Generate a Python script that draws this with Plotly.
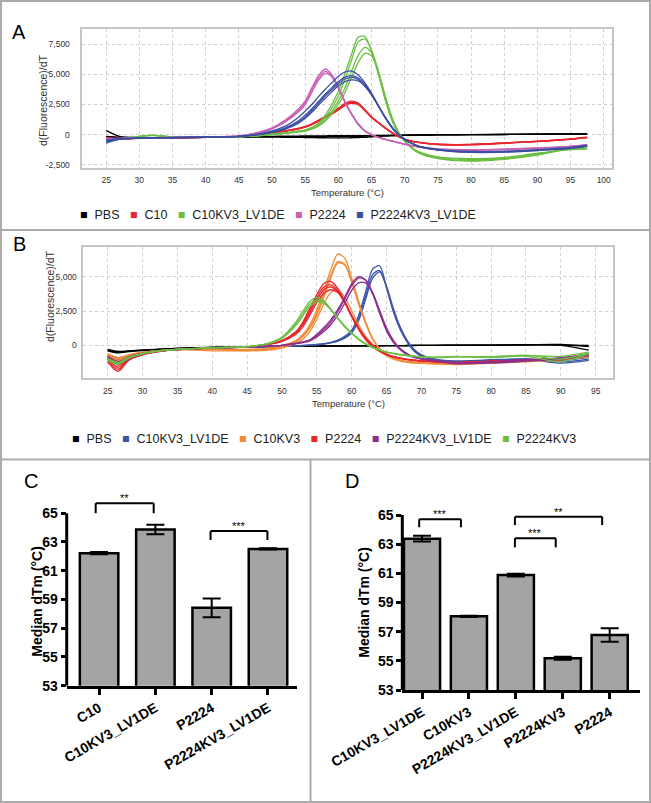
import plotly.graph_objects as go

# ---------------- Panel A: melt-curve derivative data ----------------
TEMP_A = [25, 27, 30, 32, 35, 40, 45, 48, 50, 52, 54, 55, 56, 57, 58, 59, 60, 61, 62, 63,
          64, 65, 66, 67, 68, 69, 70, 71, 72, 75, 80, 85, 90, 95, 97.5]

A_PBS = [
    [350, -150, -250, -260, -250, -230, -180, -150, -140, -130, -120, -110, -110, -100, -100, -90, -90, -90, -90, -90, -80, -80, -70, -60, -60, -50, -50, -40, -40, -30, -10, 10, 30, 50, 50],
    [-200, -260, -280, -280, -260, -230, -200, -200, -200, -220, -230, -240, -250, -260, -260, -270, -270, -270, -260, -240, -220, -190, -160, -130, -110, -90, -70, -60, -50, -30, -10, 10, 30, 40, 40],
    [-150, -220, -260, -260, -250, -220, -180, -170, -170, -165, -160, -160, -160, -160, -160, -160, -160, -160, -150, -140, -130, -120, -100, -80, -60, -50, -40, -30, -20, -10, 0, 20, 40, 60, 60],
]
A_C10 = [
    [-300, -350, -300, -280, -260, -220, -150, -20, 150, 300, 500, 650, 850, 1150, 1450, 1750, 2100, 2500, 2700, 2550, 2000, 1420, 980, 560, 160, -150, -400, -550, -650, -820, -830, -700, -560, -370, -230],
    [-350, -380, -310, -290, -265, -225, -150, -30, 130, 280, 470, 620, 820, 1100, 1400, 1700, 2050, 2450, 2650, 2550, 2050, 1480, 1020, 600, 200, -120, -380, -540, -640, -800, -810, -690, -550, -360, -220],
    [-250, -330, -290, -270, -255, -215, -140, -10, 170, 330, 530, 690, 900, 1200, 1520, 1830, 2200, 2600, 2780, 2620, 2060, 1450, 1000, 570, 170, -140, -390, -550, -650, -830, -850, -720, -580, -390, -250],
    [-320, -360, -300, -280, -260, -220, -150, -25, 140, 290, 490, 640, 840, 1120, 1430, 1730, 2060, 2420, 2600, 2480, 1980, 1420, 990, 580, 190, -120, -370, -530, -630, -800, -820, -700, -560, -380, -240],
]
A_C10KV3_LV1DE = [
    [-400, -350, -150, -60, -200, -220, -180, -80, 50, 150, 300, 400, 600, 950, 1600, 2500, 3600, 5100, 6700, 8100, 8150, 6900, 5100, 3000, 1300, 150, -550, -1100, -1500, -2000, -2200, -2050, -1700, -1150, -1000],
    [-450, -380, -160, -70, -210, -225, -185, -90, 30, 130, 270, 360, 550, 850, 1400, 2200, 3200, 4600, 6200, 7700, 7950, 7000, 5300, 3100, 1350, 180, -530, -1080, -1480, -1950, -2150, -2000, -1650, -1100, -950],
    [-380, -360, -140, -50, -200, -220, -185, -90, 20, 110, 240, 330, 500, 750, 1200, 1900, 2800, 3900, 5300, 6600, 7250, 6800, 5300, 3300, 1500, 250, -500, -1050, -1450, -1900, -2080, -1950, -1600, -1200, -1150],
    [-420, -370, -150, -60, -205, -220, -190, -95, 10, 100, 220, 300, 460, 700, 1100, 1700, 2500, 3500, 4800, 6000, 6750, 6550, 5200, 3300, 1550, 300, -480, -1020, -1400, -1850, -2000, -1900, -1550, -1250, -1200],
]
A_P2224 = [
    [-300, -350, -300, -280, -250, -200, -100, 200, 560, 1200, 2150, 2800, 3900, 4900, 5450, 5000, 3950, 2700, 1700, 850, 300, 0, -220, -380, -530, -650, -800, -900, -1000, -1200, -1280, -1220, -1120, -980, -850],
    [-400, -320, -280, -270, -240, -200, -110, 170, 520, 1120, 2000, 2650, 3700, 4700, 5250, 4850, 3850, 2650, 1650, 820, 280, -20, -240, -400, -550, -680, -820, -930, -1030, -1220, -1300, -1250, -1150, -1000, -880],
    [-350, -300, -260, -250, -230, -190, -120, 140, 470, 1050, 1900, 2500, 3500, 4500, 5080, 4800, 3900, 2750, 1750, 900, 320, 10, -210, -370, -520, -650, -790, -900, -1000, -1180, -1250, -1200, -1100, -960, -830],
]
A_P2224KV3_LV1DE = [
    [-700, -400, -300, -280, -260, -220, -150, 50, 300, 700, 1450, 1950, 2500, 3150, 3750, 4300, 4850, 5200, 5280, 4950, 4300, 3450, 2450, 1500, 650, 0, -430, -700, -950, -1250, -1450, -1430, -1300, -1120, -950],
    [-600, -380, -290, -270, -250, -210, -160, 20, 230, 560, 1150, 1600, 2150, 2750, 3350, 3900, 4400, 4780, 4900, 4700, 4150, 3350, 2400, 1450, 620, 0, -420, -720, -970, -1280, -1480, -1460, -1330, -1150, -980],
    [-500, -350, -280, -260, -245, -205, -155, 10, 200, 500, 1050, 1450, 2000, 2600, 3200, 3750, 4250, 4620, 4750, 4580, 4080, 3320, 2400, 1470, 650, 30, -400, -700, -950, -1260, -1450, -1420, -1280, -1100, -900],
    [-450, -330, -270, -255, -240, -200, -150, 0, 180, 450, 950, 1350, 1850, 2450, 3000, 3550, 4050, 4400, 4550, 4450, 4000, 3300, 2420, 1500, 700, 60, -380, -680, -930, -1230, -1400, -1380, -1250, -1070, -880],
]
A_NAMES = ["PBS", "C10", "C10KV3_LV1DE", "P2224", "P2224KV3_LV1DE"]
A_COLORS = ["#000000", "#e8262e", "#6cbf45", "#c862b5", "#3b4ea3"]
A_CURVES = [A_PBS, A_C10, A_C10KV3_LV1DE, A_P2224, A_P2224KV3_LV1DE]
A_XTICKS = [25, 30, 35, 40, 45, 50, 55, 60, 65, 70, 75, 80, 85, 90, 95, 100]
A_YTICKS = [-2500, 0, 2500, 5000, 7500]
A_YTICKTEXT = ["-2,500", "0", "2,500", "5,000", "7,500"]

# ---------------- Panel B ----------------
TEMP_B = [25, 26.5, 28, 30, 32.5, 35, 40, 45, 48, 50, 52, 53, 54, 55, 56, 57, 58, 59, 60, 61,
          62, 63, 64, 65, 66, 67, 68, 69, 70, 72, 75, 80, 85, 90, 94]

B_PBS = [
    [-300, -450, -400, -350, -280, -220, -150, -100, -80, -70, -60, -60, -55, -50, -50, -45, -45, -40, -40, -35, -35, -30, -30, -25, -20, -20, -15, -10, -5, 0, 10, 20, 30, 20, 0],
    [-400, -550, -450, -380, -300, -230, -160, -110, -90, -80, -70, -65, -60, -60, -55, -55, -50, -50, -45, -45, -40, -40, -35, -30, -25, -20, -20, -15, -10, 0, 0, 10, 20, 0, -350],
    [-350, -500, -420, -360, -290, -225, -155, -105, -85, -75, -65, -62, -58, -55, -52, -50, -48, -45, -42, -40, -38, -35, -32, -28, -22, -18, -15, -10, -5, 0, 5, 15, 40, 60, -100],
]
B_C10KV3_LV1DE = [
    [-800, -1000, -800, -600, -400, -300, -200, -130, -100, -80, -50, -20, 20, 60, 120, 220, 380, 650, 1100, 2200, 3900, 5550, 5800, 4200, 2400, 1100, 200, -450, -800, -1100, -1150, -1100, -1050, -1100, -900],
    [-700, -900, -750, -580, -390, -290, -190, -120, -90, -70, -40, -15, 15, 50, 100, 190, 330, 580, 1000, 2000, 3600, 5150, 5450, 4200, 2500, 1200, 270, -380, -750, -1050, -1200, -1150, -1000, -1200, -1000],
    [-900, -1100, -850, -620, -410, -300, -195, -125, -95, -75, -45, -20, 10, 40, 90, 170, 300, 520, 900, 1800, 3350, 4900, 5350, 4300, 2650, 1300, 330, -330, -700, -1000, -1150, -1050, -1000, -1300, -1100],
]
B_C10KV3 = [
    [-600, -900, -700, -500, -380, -300, -250, -300, -200, 0, 350, 800, 1500, 2600, 4000, 5500, 6650, 6350, 4900, 3200, 1700, 500, -250, -650, -900, -1100, -1200, -1250, -1300, -1350, -1350, -1250, -1150, -1000, -800],
    [-700, -1000, -750, -520, -390, -310, -260, -350, -250, -50, 300, 700, 1350, 2350, 3700, 5100, 6100, 5900, 4600, 3000, 1600, 450, -250, -650, -900, -1100, -1200, -1250, -1300, -1350, -1400, -1300, -1200, -1050, -850],
    [-650, -950, -720, -510, -385, -305, -400, -380, -300, -100, 250, 650, 1250, 2200, 3500, 4900, 6000, 5850, 4650, 3100, 1650, 480, -240, -640, -880, -1080, -1180, -1230, -1280, -1330, -1380, -1280, -1150, -1050, -800],
    [-750, -1100, -800, -540, -400, -320, -300, -400, -350, -200, 150, 450, 1000, 1900, 3000, 3850, 4050, 3500, 2500, 1500, 650, 50, -400, -750, -1000, -1150, -1250, -1300, -1300, -1300, -1350, -1200, -1100, -1000, -750],
]
B_P2224 = [
    [-1200, -1900, -1100, -700, -450, -320, -200, -120, 100, 350, 1000, 1700, 2700, 3700, 4500, 4650, 4150, 3200, 2100, 1150, 400, -100, -450, -700, -850, -950, -1050, -1100, -1150, -1200, -1300, -1200, -1100, -1050, -700],
    [-1000, -1600, -1000, -650, -430, -310, -195, -115, 90, 330, 950, 1600, 2550, 3500, 4250, 4400, 4000, 3150, 2100, 1200, 450, -50, -420, -680, -840, -950, -1040, -1100, -1150, -1200, -1250, -1150, -1100, -1000, -650],
    [-1100, -1750, -1050, -680, -440, -315, -200, -118, 80, 310, 900, 1500, 2400, 3300, 4050, 4250, 3900, 3100, 2100, 1200, 500, 0, -400, -660, -830, -940, -1030, -1090, -1140, -1200, -1280, -1180, -1080, -980, -620],
    [-900, -1450, -950, -620, -420, -305, -190, -110, 60, 280, 800, 1350, 2200, 3100, 3800, 4050, 3850, 3150, 2200, 1300, 550, 50, -380, -650, -820, -930, -1020, -1080, -1130, -1180, -1260, -1160, -1060, -960, -600],
]
B_P2224KV3_LV1DE = [
    [-900, -1300, -900, -600, -400, -300, -200, -120, -60, 0, 150, 250, 400, 800, 1300, 1850, 2600, 3500, 4500, 5000, 4750, 3750, 2350, 1050, 200, -350, -700, -900, -1000, -1150, -1300, -1300, -1150, -1000, -750],
    [-800, -1200, -850, -580, -390, -290, -195, -115, -55, 0, 130, 220, 360, 700, 1150, 1700, 2450, 3350, 4350, 4900, 4750, 3850, 2500, 1150, 250, -300, -650, -870, -980, -1120, -1350, -1250, -1100, -950, -700],
    [-1000, -1400, -950, -620, -410, -305, -200, -118, -58, 0, 120, 200, 320, 600, 1000, 1500, 2200, 3050, 4000, 4550, 4550, 3800, 2550, 1250, 350, -250, -620, -850, -970, -1100, -1300, -1200, -1050, -900, -650],
]
B_P2224KV3 = [
    [-1000, -1300, -900, -600, -400, -300, -180, -100, 150, 600, 1700, 2500, 3200, 3500, 3250, 2650, 2000, 1400, 900, 450, 100, -150, -350, -500, -600, -680, -750, -800, -850, -900, -850, -850, -750, -800, -500],
    [-1100, -1400, -950, -620, -410, -305, -185, -105, 120, 550, 1550, 2300, 3000, 3300, 3150, 2600, 1950, 1350, 850, 420, 80, -170, -360, -510, -610, -690, -760, -810, -860, -880, -800, -900, -800, -1200, -600],
    [-950, -1250, -880, -590, -395, -298, -178, -98, 100, 500, 1450, 2150, 2850, 3150, 3050, 2600, 2000, 1400, 900, 450, 120, -140, -340, -490, -590, -670, -740, -790, -840, -870, -820, -830, -720, -1000, -550],
]
B_NAMES = ["PBS", "C10KV3_LV1DE", "C10KV3", "P2224", "P2224KV3_LV1DE", "P2224KV3"]
B_COLORS = ["#000000", "#3d55a8", "#f28a35", "#e8262e", "#8c2e90", "#6cbf45"]
B_CURVES = [B_PBS, B_C10KV3_LV1DE, B_C10KV3, B_P2224, B_P2224KV3_LV1DE, B_P2224KV3]
B_XTICKS = [25, 30, 35, 40, 45, 50, 55, 60, 65, 70, 75, 80, 85, 90, 95]
B_YTICKS = [0, 2500, 5000]
B_YTICKTEXT = ["0", "2,500", "5,000"]

# ---------------- Panels C and D: median dTm bars ----------------
C_CATS = ["C10", "C10KV3_LV1DE", "P2224", "P2224KV3_LV1DE"]
C_MEANS = [62.22, 63.87, 58.42, 62.52]
C_ERR = [0.08, 0.33, 0.65, 0.05]
D_CATS = ["C10KV3_LV1DE", "C10KV3", "P2224KV3_LV1DE", "P2224KV3", "P2224"]
D_MEANS = [63.38, 58.05, 60.88, 55.18, 56.77]
D_ERR = [0.2, 0.05, 0.1, 0.1, 0.46]
BAR_YTICKS = [53, 55, 57, 59, 61, 63, 65]
# significance brackets: (left x, right x, bar height, leg bottom, label)
C_BRACKETS = [(-0.06, 0.97, 65.70, 65.0, "**"), (1.98, 2.99, 63.77, 63.14, "***")]
D_BRACKETS = [(-0.06, 0.83, 64.71, 64.16, "***"), (1.98, 3.84, 64.88, 64.31, "**"),
              (1.98, 2.85, 63.40, 62.78, "***")]

W, H = 651, 803
FONT = "Liberation Sans, Arial, sans-serif"


def px(x):
    return x / W


def py(y):
    return 1 - y / H


fig = go.Figure()


def add_curves(temps, curves, colors, xa, ya):
    for reps, color in zip(curves, colors):
        for r in reps:
            fig.add_trace(go.Scatter(
                x=temps, y=r, mode="lines",
                line=dict(color=color, width=1.3, shape="spline", smoothing=0.8),
                xaxis=xa, yaxis=ya, showlegend=False, hoverinfo="skip"))


add_curves(TEMP_A, A_CURVES, A_COLORS, "x", "y")
add_curves(TEMP_B, B_CURVES, B_COLORS, "x2", "y2")

bar_marker = dict(color="#a4a4a4", line=dict(color="black", width=2.5))
fig.add_trace(go.Bar(x=C_CATS, y=C_MEANS, width=0.684, marker=bar_marker,
                     error_y=dict(type="data", array=C_ERR, color="black", thickness=2, width=9),
                     xaxis="x3", yaxis="y3", showlegend=False, hoverinfo="skip"))
fig.add_trace(go.Bar(x=D_CATS, y=D_MEANS, width=0.77, marker=bar_marker,
                     error_y=dict(type="data", array=D_ERR, color="black", thickness=2, width=9),
                     xaxis="x4", yaxis="y4", showlegend=False, hoverinfo="skip"))

line_ax = dict(showgrid=True, gridcolor="#cfcfcf", griddash="dot", gridwidth=1, zeroline=False,
               showline=True, mirror=True, linecolor="#c6c6c6", linewidth=1.5, automargin=False,
               ticks="outside", tickcolor="rgba(0,0,0,0)",
               tickfont=dict(family=FONT, size=8.5, color="#333333"))

bar_x = dict(type="category", showline=True, linecolor="black", linewidth=3, showgrid=False,
             zeroline=False, ticks="outside", ticklen=6, tickwidth=2.5, tickcolor="black",
             automargin=False, tickangle=-30,
             tickfont=dict(family=FONT, size=14, color="black", weight="bold"))
bar_y = dict(showline=False, showgrid=False, zeroline=False, range=[53, 66.2], tickvals=BAR_YTICKS,
             ticks="outside", ticklen=5, tickwidth=2.5, tickcolor="black", automargin=False,
             tickfont=dict(family=FONT, size=14, color="black", weight="bold"))

fig.update_layout(
    width=W, height=H, margin=dict(l=0, r=0, t=0, b=0, autoexpand=False),
    paper_bgcolor="white", plot_bgcolor="white", showlegend=False,
    xaxis=dict(domain=[px(82.3), px(611.7)], range=[21.4, 101.2], tickvals=A_XTICKS, ticklen=3,
               anchor="y", **line_ax),
    yaxis=dict(domain=[py(168), py(29.3)], range=[-2774, 8746], tickvals=A_YTICKS,
               ticktext=A_YTICKTEXT, ticklen=9, anchor="x", **line_ax),
    xaxis2=dict(domain=[px(83.3), px(612.7)], range=[21.5, 97.44], tickvals=B_XTICKS, ticklen=4,
                anchor="y2", **line_ax),
    yaxis2=dict(domain=[py(378.3), py(247.3)], range=[-2405, 7143], tickvals=B_YTICKS,
                ticktext=B_YTICKTEXT, ticklen=3, anchor="x2", **line_ax),
    xaxis3=dict(domain=[px(66.7), px(296.7)], range=[-0.575, 3.51], anchor="y3", **bar_x),
    yaxis3=dict(domain=[py(685.7), py(496.0)], anchor="x3", **bar_y),
    xaxis4=dict(domain=[px(402.3), px(640)], range=[-0.42, 4.646], anchor="y4", **bar_x),
    yaxis4=dict(domain=[py(690), py(497.5)], anchor="x4", **bar_y),
)

shapes = []
annotations = []
# panel frames
gray = "#ababab"
shapes.append(dict(type="rect", xref="paper", yref="paper", x0=px(1), x1=px(650), y0=py(802), y1=py(1),
                   line=dict(color=gray, width=2)))
shapes.append(dict(type="line", xref="paper", yref="paper", x0=0, x1=1, y0=py(230), y1=py(230),
                   line=dict(color=gray, width=2)))
shapes.append(dict(type="line", xref="paper", yref="paper", x0=0, x1=1, y0=py(459.5), y1=py(459.5),
                   line=dict(color=gray, width=2)))
shapes.append(dict(type="line", xref="paper", yref="paper", x0=px(310.5), x1=px(310.5), y0=py(459.5),
                   y1=0, line=dict(color=gray, width=2)))

# bar-panel y axis lines (stop at 65)
for xr, yr in (("x3", "y3"), ("x4", "y4")):
    shapes.append(dict(type="line", xref=f"{xr} domain", yref=yr, x0=0, x1=0, y0=53, y1=65,
                       line=dict(color="black", width=3)))

# significance brackets
for (xr, yr, brs) in (("x3", "y3", C_BRACKETS), ("x4", "y4", D_BRACKETS)):
    for x0, x1, ytop, yleg, lab in brs:
        for (a0, a1, b0, b1) in ((x0, x0, yleg, ytop), (x0, x1, ytop, ytop), (x1, x1, ytop, yleg)):
            shapes.append(dict(type="line", xref=xr, yref=yr, x0=a0, x1=a1, y0=b0, y1=b1,
                               line=dict(color="black", width=2)))
        annotations.append(dict(xref=xr, yref=yr, x=(x0 + x1) / 2, y=ytop, text=lab, showarrow=False,
                                xanchor="center", yanchor="bottom", yshift=-3,
                                font=dict(family=FONT, size=11, color="black")))


def paper_note(text, x, y, font, angle=0):
    return dict(xref="paper", yref="paper", x=px(x), y=py(y), text=text, showarrow=False,
                xanchor="center", yanchor="middle", textangle=angle, font=font)


# panel letters
for lab, x, y in (("A", 19, 32), ("B", 19, 244), ("C", 31, 481), ("D", 352, 481)):
    annotations.append(paper_note(lab, x, y, dict(family=FONT, size=20, color="black")))

# axis titles
tfont = dict(family=FONT, size=9.5, color="#333333")
yfont = dict(family=FONT, size=10.5, color="#333333")
bfont = dict(family=FONT, size=14, color="black", weight="bold")
annotations += [
    paper_note("Temperature (°C)", 347, 192.7, tfont),
    paper_note("d(Fluorescence)/dT", 43, 100, yfont, -90),
    paper_note("Temperature (°C)", 348, 403, tfont),
    paper_note("d(Fluorescence)/dT", 50, 296, yfont, -90),
    paper_note("Median dTm (°C)", 37, 601.7, bfont, -90),
    paper_note("Median dTm (°C)", 364, 601.7, bfont, -90),
]


# legends (coloured squares + names)
def legend_text(names, colors):
    items = [f'<span style="color:{c}">\u25a0</span>\u00a0\u00a0{n}' for n, c in zip(names, colors)]
    return "\u00a0\u00a0\u00a0".join(items)


lfont = dict(family=FONT, size=12.5, color="#222222")
annotations.append(paper_note(legend_text(A_NAMES, A_COLORS), 278, 215.3, lfont))
annotations.append(paper_note(legend_text(B_NAMES, B_COLORS), 324, 439, lfont))

fig.update_layout(shapes=shapes, annotations=annotations)
fig.write_html("out.html", config={"displayModeBar": False, "responsive": False},
               post_script="document.body.style.margin='0px';")
